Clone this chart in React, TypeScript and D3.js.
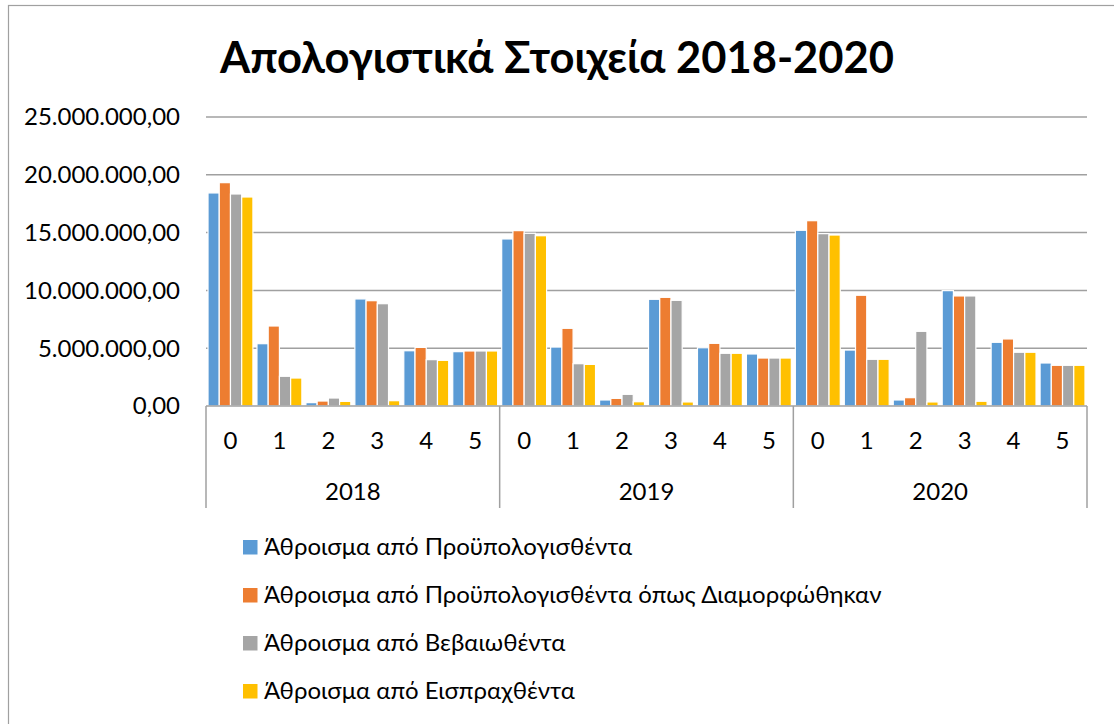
import React, { useEffect, useRef } from "react";
import * as d3 from "d3";

const title = "Απολογιστικά Στοιχεία 2018-2020";
const years = ["2018", "2019", "2020"];
const categories = ["0", "1", "2", "3", "4", "5"];
const seriesNames = [
  "Άθροισμα από Προϋπολογισθέντα",
  "Άθροισμα από Προϋπολογισθέντα όπως Διαμορφώθηκαν",
  "Άθροισμα από Βεβαιωθέντα",
  "Άθροισμα από Εισπραχθέντα",
];
const colors = ["#5B9BD5", "#ED7D31", "#A5A5A5", "#FFC000"];
const yTicks = [0, 5000000, 10000000, 15000000, 20000000, 25000000];

// values per year, per category, per series (blue, orange, gray, yellow)
const v2018 = [
  [18430000, 19320000, 18340000, 18080000],
  [5390000, 6920000, 2570000, 2420000],
  [290000, 430000, 690000, 400000],
  [9260000, 9110000, 8850000, 460000],
  [4780000, 5070000, 4010000, 3950000],
  [4700000, 4760000, 4760000, 4760000],
];
const v2019 = [
  [14450000, 15170000, 14940000, 14730000],
  [5100000, 6720000, 3660000, 3600000],
  [520000, 660000, 1010000, 370000],
  [9230000, 9400000, 9140000, 350000],
  [5040000, 5420000, 4560000, 4560000],
  [4500000, 4150000, 4150000, 4150000],
];
const v2020 = [
  [15200000, 16030000, 14910000, 14790000],
  [4840000, 9580000, 4040000, 4040000],
  [520000, 720000, 6460000, 350000],
  [9980000, 9520000, 9520000, 410000],
  [5510000, 5800000, 4650000, 4650000],
  [3720000, 3520000, 3520000, 3520000],
];
const yearValues = [v2018, v2019, v2020];

const FONT = "Lato, Carlito, 'Open Sans', sans-serif";
const FS = 24;

const fmt = (n: number) => {
  const intPart = Math.round(n).toString().replace(/\B(?=(\d{3})+(?!\d))/g, ".");
  return intPart + ",00";
};

export default function App() {
  const ref = useRef<SVGSVGElement>(null);

  useEffect(() => {
    const svg = d3.select(ref.current);
    svg.selectAll("*").remove();
    const W = 1114, H = 724;
    const left = 206, right = 1087, top = 117, bottom = 406;

    svg.append("rect").attr("x", 8.5).attr("y", 5.5).attr("width", W + 20).attr("height", H + 20)
      .attr("fill", "#fff").attr("stroke", "#a0a0a0").attr("stroke-width", 1.2);

    svg.append("text").attr("x", 557).attr("y", 73).attr("text-anchor", "middle")
      .attr("font-family", FONT).attr("font-weight", "bold").attr("font-size", 43.5)
      .attr("fill", "#000").text(title);

    const y = d3.scaleLinear().domain([0, 25000000]).range([bottom, top]);
    const xYear = d3.scaleBand().domain(years).range([left, right]).padding(0);
    const xCat = d3.scaleBand().domain(categories).range([0, xYear.bandwidth()]).padding(0);
    const xSer = d3.scaleBand().domain(seriesNames).range([0, xCat.bandwidth()]).paddingOuter(0.18).paddingInner(0);

    // gridlines
    svg.append("g").selectAll("line").data(yTicks.filter((t) => t > 0)).join("line")
      .attr("x1", left).attr("x2", right).attr("y1", (d) => y(d)).attr("y2", (d) => y(d))
      .attr("stroke", "#a0a0a0").attr("stroke-width", 1.5);

    // y labels
    svg.append("g").selectAll("text").data(yTicks).join("text")
      .attr("x", 180).attr("y", (d) => y(d)).attr("dy", "0.35em").attr("text-anchor", "end")
      .attr("font-family", FONT).attr("font-size", FS).attr("fill", "#000").text((d) => fmt(d));

    // bars
    years.forEach((yr, yi) => {
      const g = svg.append("g").attr("transform", `translate(${xYear(yr)},0)`);
      categories.forEach((c, ci) => {
        const cg = g.append("g").attr("transform", `translate(${xCat(c)},0)`);
        cg.selectAll("rect").data(yearValues[yi][ci]).join("rect")
          .attr("x", (_d, i) => xSer(seriesNames[i])!)
          .attr("width", xSer.bandwidth())
          .attr("y", (d) => y(d))
          .attr("height", (d) => bottom - y(d))
          .attr("fill", (_d, i) => colors[i])
          .attr("stroke", "#fff").attr("stroke-width", 1.2);
        cg.append("text").attr("x", xCat.bandwidth() / 2).attr("y", 441).attr("dy", "0.35em")
          .attr("text-anchor", "middle").attr("font-family", FONT).attr("font-size", FS)
          .attr("fill", "#000").text(c);
      });
      g.append("text").attr("x", xYear.bandwidth() / 2).attr("y", 492).attr("dy", "0.35em")
        .attr("text-anchor", "middle").attr("font-family", FONT).attr("font-size", FS)
        .attr("fill", "#000").text(yr);
    });

    // axis line and separators
    svg.append("line").attr("x1", left).attr("x2", right).attr("y1", bottom).attr("y2", bottom)
      .attr("stroke", "#a0a0a0").attr("stroke-width", 1.5);
    const seps = [left, ...years.map((yr) => xYear(yr)! + xYear.bandwidth())];
    svg.append("g").selectAll("line").data(seps).join("line")
      .attr("x1", (d) => d).attr("x2", (d) => d).attr("y1", bottom).attr("y2", 508)
      .attr("stroke", "#a0a0a0").attr("stroke-width", 1.5);

    // legend
    const lg = svg.append("g");
    seriesNames.forEach((s, i) => {
      const cy = 547 + i * 48;
      lg.append("rect").attr("x", 243).attr("y", cy - 7).attr("width", 14.5).attr("height", 14.5)
        .attr("fill", colors[i]);
      lg.append("text").attr("x", 264).attr("y", cy).attr("dy", "0.35em")
        .attr("font-family", FONT).attr("font-size", FS).attr("fill", "#000").text(s);
    });
  }, []);

  return (
    <svg ref={ref} width={1114} height={724}
      style={{ position: "absolute", left: 0, top: 0, background: "#fff" }} />
  );
}
